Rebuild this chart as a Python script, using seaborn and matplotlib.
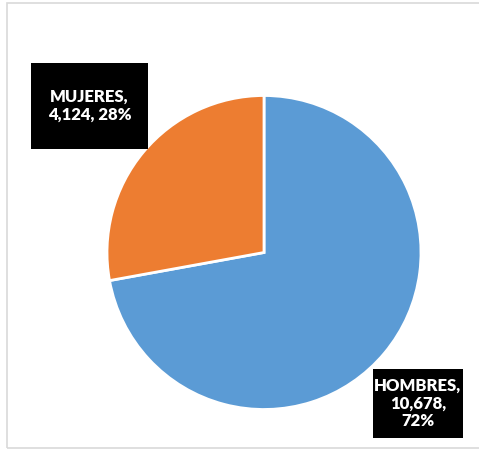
import matplotlib
matplotlib.use("Agg")
import matplotlib.pyplot as plt
import matplotlib.patches as mpatches
import seaborn as sns

categories = ["HOMBRES", "MUJERES"]
values = [10678, 4124]
colors = ["#5B9BD5", "#ED7D31"]

sns.set_theme(style="white")
plt.rcParams['font.family'] = ['Lato', 'DejaVu Sans']

W, H = 479, 451
fig = plt.figure(figsize=(W / 100, H / 100), dpi=100)
ax = fig.add_axes([0, 0, 1, 1])

ax.pie(values, colors=colors, startangle=90, counterclock=False,
       center=(264, H - 252.5), radius=157,
       wedgeprops=dict(edgecolor="white", linewidth=2))
ax.set_xlim(0, W)
ax.set_ylim(0, H)
ax.set_aspect("equal")
ax.axis("off")

# outer chart frame
ax.add_patch(mpatches.Rectangle((7.5, H - 447.5), 480, 444.5, fill=False,
                                edgecolor="#d9d9d9", linewidth=1.2))

total = sum(values)
labels = {}
for c, v in zip(categories, values):
    pct = round(v / total * 100)
    labels[c] = (c, f"{v:,}", f"{pct}%")

# label boxes (pixel coords: x0, y0(top), x1, y1(bottom))
boxes = {
    "MUJERES": (31, 63, 148, 149),
    "HOMBRES": (373, 369, 463, 438),
}
texts = {
    "MUJERES": f"{labels['MUJERES'][0]},\n{labels['MUJERES'][1]}, {labels['MUJERES'][2]}",
    "HOMBRES": f"{labels['HOMBRES'][0]},\n{labels['HOMBRES'][1]},\n{labels['HOMBRES'][2]}",
}
for c in categories:
    x0, y0, x1, y1 = boxes[c]
    ax.add_patch(mpatches.Rectangle((x0, H - y1), x1 - x0, y1 - y0,
                                    facecolor="black", edgecolor="none"))
    ax.text((x0 + x1) / 2, H - (y0 + y1) / 2, texts[c], color="white",
            fontsize=12, fontweight="heavy", ha="center", va="center",
            linespacing=1.15)

fig.savefig("out.png", dpi=100)
